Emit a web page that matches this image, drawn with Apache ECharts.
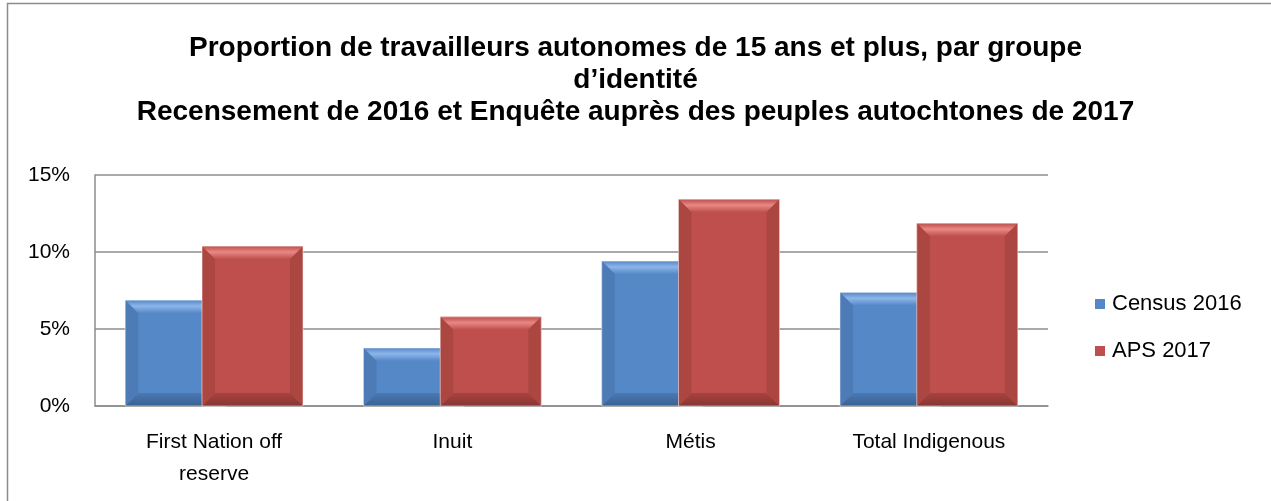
<!DOCTYPE html>
<html>
<head>
<meta charset="utf-8">
<script src="https://cdn.jsdelivr.net/npm/echarts@6/dist/echarts.min.js"></script>
<style>
  html, body { margin: 0; padding: 0; background: #fff; }
  #chart { width: 1271px; height: 501px; }
</style>
</head>
<body>
<div id="chart"></div>
<script>
var categories = ["First Nation off\nreserve", "Inuit", "Métis", "Total Indigenous"];
var census2016 = [6.87, 3.77, 9.41, 7.37];
var aps2017 = [10.38, 5.79, 13.42, 11.86];
var seriesNames = ["Census 2016", "APS 2017"];
var yTicks = [0, 5, 10, 15];
var titleLines = [
  "Proportion de travailleurs autonomes de 15 ans et plus, par groupe",
  "d’identité",
  "Recensement de 2016 et Enquête auprès des peuples autochtones de 2017"
];

var FONT = '"Liberation Sans", Arial, sans-serif';

// couleurs de base + biseau
var palettes = [
  { main: "#5588C7", top: "#8DB6EA", bottom: "#3A6294", side: "#4A78B2" },
  { main: "#BE4F4C", top: "#E88884", bottom: "#873633", side: "#A8433F" }
];

var BAR_RATIO = 0.424;
var OVERLAP = 0.24;

function makeRender(k) {
  return function (params, api) {
    var idx = api.value(0);
    var top = api.coord([idx, api.value(1)]);
    var base = api.coord([idx, 0]);
    var catW = api.size([1, 0])[0];
    var bw = catW * BAR_RATIO;
    var groupW = bw * (2 - OVERLAP);
    var x0 = top[0] - groupW / 2 + k * bw * (1 - OVERLAP);
    var x1 = x0 + bw;
    var y0 = top[1], y1 = base[1];
    var h = y1 - y0;
    var b = Math.min(13, h / 2, bw / 2);
    var p = palettes[k];
    return {
      type: "group",
      children: [
        { type: "rect", shape: { x: x0, y: y0, width: bw, height: h }, style: { fill: p.main } },
        { type: "polygon", shape: { points: [[x0, y0], [x1, y0], [x1 - b, y0 + b], [x0 + b, y0 + b]] },
          style: { fill: new echarts.graphic.LinearGradient(0, 0, 0, 1, [
            { offset: 0, color: p.main }, { offset: 0.45, color: p.top }, { offset: 1, color: p.main }]) } },
        { type: "polygon", shape: { points: [[x0, y1], [x1, y1], [x1 - b, y1 - b], [x0 + b, y1 - b]] },
          style: { fill: new echarts.graphic.LinearGradient(0, 0, 0, 1, [
            { offset: 0, color: p.side }, { offset: 1, color: p.bottom }]) } },
        { type: "polygon", shape: { points: [[x0, y0], [x0 + b, y0 + b], [x0 + b, y1 - b], [x0, y1]] },
          style: { fill: p.side, opacity: 0.8 } },
        { type: "polygon", shape: { points: [[x1, y0], [x1 - b, y0 + b], [x1 - b, y1 - b], [x1, y1]] },
          style: { fill: p.side, opacity: 0.8 } },
        { type: "rect", shape: { x: x0, y: y0, width: bw, height: h },
          style: { fill: "none", stroke: "rgba(255,255,255,0.5)", lineWidth: 1 } }
      ]
    };
  };
}

function toData(values) {
  return values.map(function (v, i) { return [i, v]; });
}

var chart = echarts.init(document.getElementById("chart"), null, { renderer: "canvas" });
var option = {
  animation: false,
  textStyle: { fontFamily: FONT },
  title: titleLines.map(function (t, i) {
    return {
      text: t,
      left: "center",
      top: 34 + i * 32,
      padding: 0,
      textStyle: { fontFamily: FONT, fontWeight: "bold", fontSize: 28, color: "#000" }
    };
  }),
  graphic: [
    { type: "rect", shape: { x: 7.5, y: 3.5, width: 1300, height: 600 },
      style: { fill: "none", stroke: "#8C8C8C", lineWidth: 1.5 }, silent: true, z: -1 }
  ],
  legend: {
    orient: "vertical",
    left: 1090,
    top: 288,
    itemWidth: 10,
    itemHeight: 10,
    itemGap: 25,
    icon: "rect",
    textStyle: { fontFamily: FONT, fontSize: 22, color: "#000", padding: [0, 0, 0, 2] },
    data: seriesNames
  },
  color: [palettes[0].main, palettes[1].main],
  grid: { left: 95, right: 223, top: 175, bottom: 95 },
  xAxis: {
    type: "category",
    data: categories,
    axisLine: { lineStyle: { color: "#8C8C8C", width: 1.5 } },
    axisTick: { show: false },
    axisLabel: { fontFamily: FONT, fontSize: 21, color: "#000", margin: 20, lineHeight: 32 }
  },
  yAxis: {
    type: "value",
    min: yTicks[0],
    max: yTicks[yTicks.length - 1],
    interval: yTicks[1] - yTicks[0],
    axisLine: { show: true, lineStyle: { color: "#8C8C8C", width: 1.5 } },
    axisTick: { show: false },
    splitLine: { lineStyle: { color: "#8C8C8C", width: 1.5 } },
    axisLabel: { fontFamily: FONT, fontSize: 21, color: "#000", margin: 25, formatter: "{value}%" }
  },
  series: [
    { name: seriesNames[0], type: "custom", renderItem: makeRender(0), encode: { x: 0, y: 1 }, data: toData(census2016) },
    { name: seriesNames[1], type: "custom", renderItem: makeRender(1), encode: { x: 0, y: 1 }, data: toData(aps2017) }
  ]
};
chart.setOption(option);
</script>
</body>
</html>
